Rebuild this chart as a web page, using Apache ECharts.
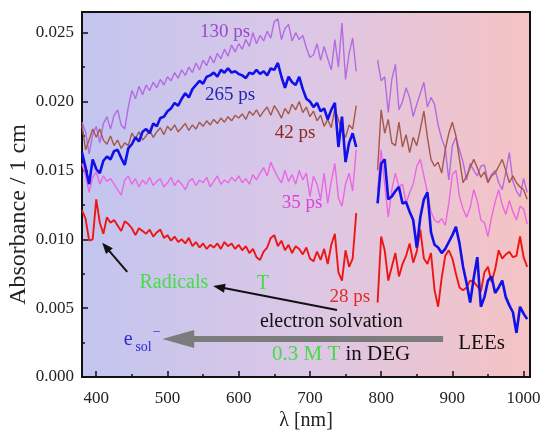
<!DOCTYPE html>
<html><head><meta charset="utf-8">
<script src="https://cdn.jsdelivr.net/npm/echarts@6/dist/echarts.min.js"></script>
<style>html,body{margin:0;padding:0;background:#fff}#c{width:540px;height:431px}</style>
</head><body><div id="c"></div>
<script>
// wavelength grids (nm)
const wl1 = [380,385,390,395,400,405,410,415,420,425,430,435,440,445,450,455,460,465,470,475,480,485,490,495,500,505,510,515,520,525,530,535,540,545,550,555,560,565,570,575,580,585,590,595,600,605,610,615,620,625,630,635,640,645,650,655,660,665,670,675,680,685,690,695,700,705,710,715,720,725,730,735,740,745,750,755,760,765];
const wl2 = [795,800,805,810,815,820,825,830,835,840,845,850,855,860,865,870,875,880,885,890,895,900,905,910,915,920,925,930,935,940,945,950,955,960,965,970,975,980,985,990,995,1000,1005];
// absorbance values in units of 10^-3 (mOD)
const ps130_a = [18.5,17.8,16.2,17.6,18.2,17.0,18.4,18.9,18.0,19.0, 19.4,18.3,18.0,19.6,20.8,20.2,21.1,20.5,21.2,20.8, 21.4,21.0,21.6,21.2,21.8,21.5,22.1,21.7,22.3,21.9, 22.5,22.1,22.8,22.3,23.0,22.6,23.3,22.8,23.5,23.1, 23.8,23.3,24.1,23.6,24.2,23.8,24.5,24.0,25.0,24.2, 24.8,24.4,25.1,24.6,25.8,26.0,24.5,25.3,25.6,24.4, 25.0,24.5,24.8,23.9,23.2,23.4,24.2,23.0,24.0,23.1, 22.3,24.5,22.5,25.7,21.6,23.5,24.6,22.2];
const ps130_b = [23.0,21.5,21.8,19.2,21.6,22.7,19.4,20.0,21.0,20.3, 18.9,19.8,20.6,21.4,19.6,20.3,19.8,18.3,17.3,16.6, 14.3,16.8,17.4,16.5,15.6,14.3,15.5,15.0,14.6,15.3, 15.4,14.2,14.7,15.0,14.1,13.6,14.9,16.3,14.2,13.5, 13.1,14.4,13.4];
const ps265_a = [16.3,15.2,14.0,15.8,15.1,14.8,15.7,16.0,15.8,16.4, 16.5,15.9,15.4,16.6,16.9,17.4,17.1,17.8,18.0,17.7, 18.4,18.2,18.8,18.9,19.3,19.5,19.9,19.7,20.2,20.6, 20.3,20.9,21.2,21.5,21.3,21.8,21.9,22.1,21.8,22.3, 22.1,22.4,22.1,22.2,22.0,21.9,21.7,22.1,22.0,22.3, 22.0,22.2,21.9,22.4,22.3,22.8,21.8,21.0,21.8,21.4, 21.2,21.8,20.9,20.2,20.0,19.6,19.9,19.3,19.5,18.7, 19.4,19.9,16.7,18.9,15.6,17.0,17.7,16.7];
const ps265_b = [12.6,15.5,15.8,12.9,13.1,13.5,13.8,12.6,12.7,12.0, 11.4,9.4,11.6,12.9,13.4,10.5,9.6,9.4,9.0,9.3, 9.8,10.3,10.9,9.7,8.0,6.8,5.4,7.2,8.7,5.1, 5.8,7.0,7.3,6.1,6.5,7.0,5.8,5.2,4.7,3.2, 5.1,4.6,4.2];
const ps42_a = [18.3,16.5,17.2,18.0,17.4,18.0,17.2,16.9,17.5,16.8, 17.2,16.6,17.0,16.8,17.7,17.3,17.8,17.2,17.5,17.9, 17.4,17.8,18.1,17.6,18.2,17.9,18.3,17.8,18.1,18.4, 17.9,18.3,18.0,18.5,18.2,18.6,18.3,18.7,18.4,18.8, 18.5,18.9,18.6,19.0,18.8,19.1,18.7,19.3,19.0,19.4, 18.9,19.3,19.6,19.0,19.7,19.3,18.8,19.5,19.1,19.8, 19.4,20.0,19.2,19.6,18.9,19.3,18.6,19.0,18.2,18.7, 18.1,19.5,18.7,17.8,17.4,18.3,18.0,19.7];
const ps42_b = [15.0,19.4,17.7,18.7,17.0,16.8,18.5,16.7,17.6,16.3, 17.4,16.8,18.0,19.3,17.4,15.8,15.3,15.6,14.8,16.5, 17.7,18.5,17.5,15.8,14.1,14.6,15.2,15.8,15.2,14.5, 14.9,14.1,14.6,14.8,15.3,15.8,15.0,14.1,14.6,14.1, 13.8,13.6,12.9];
const ps35_a = [15.5,14.6,13.4,14.5,14.9,14.0,14.6,14.2,14.4,14.0, 13.6,13.2,14.3,14.6,14.0,14.4,13.8,14.3,14.0,14.5, 13.9,14.2,14.4,13.8,14.1,14.5,13.9,14.3,14.0,13.6, 14.2,14.4,13.9,14.3,14.1,14.5,13.8,14.2,14.6,14.0, 14.3,14.1,14.5,14.2,14.6,14.1,14.4,14.0,14.7,14.3, 14.8,15.2,14.6,15.6,15.0,14.5,14.1,15.0,14.2,14.7, 14.0,15.0,14.3,14.8,13.1,14.6,14.0,12.9,14.8,12.6, 14.2,15.5,13.0,12.4,14.0,14.8,13.5,16.5];
const ps35_b = [13.5,16.5,14.0,11.6,13.6,14.8,13.8,14.0,12.6,13.4, 14.0,15.3,15.8,14.6,13.4,12.0,11.4,11.2,11.5,11.0, 12.6,14.7,15.0,13.1,12.2,11.6,12.3,13.6,12.8,11.4, 11.2,10.2,11.6,12.7,13.6,12.5,11.8,12.8,12.0,11.4, 12.4,12.2,11.1];
const ps28_a = [12.1,11.5,9.9,10.0,12.9,11.2,10.4,11.6,11.2,11.4, 11.0,10.6,11.3,11.1,10.8,10.3,10.8,10.6,10.4,10.7, 10.2,10.5,10.7,10.1,10.3,9.9,10.2,9.8,10.0,9.7, 10.1,9.5,9.8,9.4,9.7,9.3,9.6,9.4,9.7,9.3, 9.8,9.5,9.7,9.3,9.6,9.2,9.5,9.0,9.3,8.7, 8.5,9.1,9.4,10.1,10.3,9.5,9.9,9.2,9.6,9.0, 9.5,9.3,8.9,9.4,8.6,8.4,9.1,8.5,9.3,8.2, 9.6,10.4,7.6,7.0,9.2,8.0,8.6,11.9];
const ps28_b = [5.4,10.2,9.2,7.0,8.0,9.0,7.3,8.2,8.8,9.7, 8.3,9.1,10.7,8.6,8.2,9.0,6.3,5.1,7.2,8.8, 9.2,8.6,7.5,6.5,6.3,6.5,7.0,6.9,6.6,6.2, 7.6,8.0,6.9,7.8,9.2,8.6,8.9,9.1,8.7,8.8, 10.2,8.7,8.0];
// axis ticks
const xTicks = [400,500,600,700,800,900,1000];
const xMinorTicks = [450,550,650,750,850,950];
const yTicks = [0,0.005,0.010,0.015,0.020,0.025];
const yMinorTicks = [0.0025,0.0075,0.0125,0.0175,0.0225];

const F = 'Liberation Serif';
function build(a, b) {
  const d = [];
  wl1.forEach((x, i) => d.push([x, a[i] / 1000]));
  d.push([780, null]);
  wl2.forEach((x, i) => d.push([x, b[i] / 1000]));
  return d;
}
function line(name, a, b, color, width) {
  return {name, type:'line', data: build(a, b), showSymbol:false, symbol:'none', connectNulls:false,
    lineStyle:{color, width}, itemStyle:{color}, animation:false, silent:true};
}
const chart = echarts.init(document.getElementById('c'));
chart.setOption({
  animation:false,
  grid:{left:82, right:10, top:12, bottom:54, show:true, borderColor:'#111', borderWidth:2,
    containLabel:false, outerBoundsMode:'none',
    backgroundColor:{type:'linear', x:0, y:0, x2:1, y2:0, colorStops:[
      {offset:0, color:'#c2c5ef'}, {offset:0.5, color:'#dcc7e6'}, {offset:1, color:'#f5c3c3'}]}},
  xAxis:[
    {type:'value', min:380, max:1009, position:'bottom',
     axisLine:{show:true, onZero:false, lineStyle:{color:'#111', width:2}},
     axisTick:{show:true, inside:true, length:6, customValues:xTicks, lineStyle:{color:'#111', width:1.5}},
     axisLabel:{customValues:xTicks, fontFamily:F, fontSize:17, color:'#222', margin:13, formatter:v => String(v)},
     splitLine:{show:false},
     name:'λ [nm]', nameLocation:'middle', nameGap:34, nameMoveOverlap:false,
     nameTextStyle:{fontFamily:F, fontSize:20, color:'#222'}},
    {type:'value', min:380, max:1009, position:'bottom', offset:0,
     axisLine:{show:false, onZero:false}, axisLabel:{show:false}, splitLine:{show:false},
     axisTick:{show:true, inside:true, length:3, customValues:xMinorTicks, lineStyle:{color:'#111', width:1.5}}}
  ],
  yAxis:[
    {type:'value', min:0, max:0.0265, position:'left',
     axisLine:{show:true, onZero:false, lineStyle:{color:'#111', width:2}},
     axisTick:{show:true, inside:true, length:6, customValues:yTicks, lineStyle:{color:'#111', width:1.5}},
     axisLabel:{customValues:yTicks, fontFamily:F, fontSize:17, color:'#222', margin:8, formatter:v => v.toFixed(3)},
     splitLine:{show:false},
     name:'Absorbance / 1 cm', nameLocation:'middle', nameGap:51, nameMoveOverlap:false,
     nameTextStyle:{fontFamily:F, fontSize:24, color:'#222', padding:[0,40,0,0]}},
    {type:'value', min:0, max:0.0265, position:'left', offset:0,
     axisLine:{show:false, onZero:false}, axisLabel:{show:false}, splitLine:{show:false},
     axisTick:{show:true, inside:true, length:3, customValues:yMinorTicks, lineStyle:{color:'#111', width:1.5}}}
  ],
  series:[
    line('130 ps', ps130_a, ps130_b, '#b36be2', 1.4),
    line('42 ps', ps42_a, ps42_b, '#a4574c', 1.4),
    line('35 ps', ps35_a, ps35_b, '#ea66e4', 1.4),
    line('28 ps', ps28_a, ps28_b, '#ee1515', 1.9),
    line('265 ps', ps265_a, ps265_b, '#1010e8', 2.6)
  ]
});

// annotations, anchored in data coordinates
const P = p => chart.convertToPixel({xAxisIndex:0, yAxisIndex:0}, p);
const labels = [
  {t:'130 ps', at:[581, 0.02507], c:'#9a48d0', s:19},
  {t:'265 ps', at:[588, 0.0205], c:'#2424b8', s:19},
  {t:'42 ps', at:[679, 0.01773], c:'#8c2a22', s:19},
  {t:'35 ps', at:[689, 0.01264], c:'#e040d8', s:19},
  {t:'28 ps', at:[756, 0.00581], c:'#e42828', s:19},
  {t:'Radicals', at:[509, 0.00683], c:'#44dd44', s:20},
  {t:'T', at:[634, 0.00676], c:'#44dd44', s:20},
  {t:'electron solvation', at:[730, 0.0040], c:'#111', s:20},
  {t:'LEEs', at:[941, 0.0024], c:'#111', s:21}
];
const g = [];
function arrow(from, to, color, w, hl, hw) {
  const a = P(from), b = P(to);
  const dx = b[0]-a[0], dy = b[1]-a[1], L = Math.hypot(dx, dy), ux = dx/L, uy = dy/L;
  const bx = b[0]-ux*hl, by = b[1]-uy*hl;
  g.push({type:'line', shape:{x1:a[0], y1:a[1], x2:bx+ux*1, y2:by+uy*1}, style:{stroke:color, lineWidth:w}, silent:true, z:100});
  g.push({type:'polygon', shape:{points:[[b[0],b[1]],[bx-uy*hw/2, by+ux*hw/2],[bx+uy*hw/2, by-ux*hw/2]]}, style:{fill:color}, silent:true, z:100});
}
arrow([887, 0.00276], [492.6, 0.00276], '#7c7c7c', 6, 32, 18);
arrow([443.5, 0.00763], [408.4, 0.00974], '#111', 2, 11, 9);
arrow([738, 0.00487], [564, 0.00661], '#111', 2, 12, 9);
labels.forEach(l => {
  const p = P(l.at);
  g.push({type:'text', x:p[0], y:p[1], z:110, silent:true,
    style:{text:l.t, fill:l.c, font:l.s + 'px "' + F + '"', align:'center', verticalAlign:'middle'}});
});
// e_sol^-
const pe = P([444.9, 0.00269]);
g.push({type:'text', x:pe[0], y:pe[1], z:110, style:{text:'e', fill:'#2a2ad6', font:'20px "'+F+'"', align:'center', verticalAlign:'middle'}});
const ps = P([455, 0.00218]);
g.push({type:'text', x:ps[0], y:ps[1], z:110, style:{text:'sol', fill:'#2a2ad6', font:'14px "'+F+'"', align:'left', verticalAlign:'middle'}});
const pm = P([485, 0.00327]);
g.push({type:'text', x:pm[0], y:pm[1], z:110, style:{text:'−', fill:'#2a2ad6', font:'14px "'+F+'"', align:'center', verticalAlign:'middle'}});
// 0.3 M T in DEG
const pd = P([646.8, 0.0016]);
g.push({type:'text', x:pd[0], y:pd[1], z:110, style:{
  text:'{g|0.3 M T}{k| in DEG}', align:'left', verticalAlign:'middle',
  rich:{g:{fill:'#44dd44', font:'21px "'+F+'"'}, k:{fill:'#111', font:'21px "'+F+'"'}}}});
chart.setOption({graphic: g});
</script>
</body></html>
